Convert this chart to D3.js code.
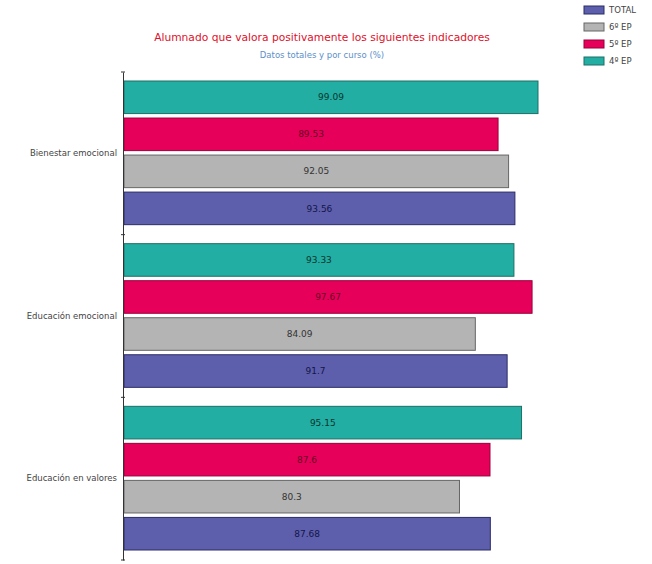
<!DOCTYPE html>
<html>
<head>
<meta charset="utf-8">
<script src="https://cdn.jsdelivr.net/npm/d3@7"></script>
<style>
  body { margin: 0; background: #fff; }
</style>
</head>
<body>
<svg></svg>
<script>
let categories = ['Bienestar emocional', 'Educación emocional', 'Educación en valores'];
let series = ['4º EP', '5º EP', '6º EP', 'TOTAL'];
let cuarto = [99.09, 93.33, 95.15];
let quinto = [89.53, 97.67, 87.6];
let sexto = [92.05, 84.09, 80.3];
let total = [93.56, 91.7, 87.68];
let legendOrder = ['TOTAL', '6º EP', '5º EP', '4º EP'];

let values = { '4º EP': cuarto, '5º EP': quinto, '6º EP': sexto, 'TOTAL': total };
let fills = { '4º EP': '#22aea2', '5º EP': '#e6005a', '6º EP': '#b4b4b4', 'TOTAL': '#5d5fac' };
let strokes = { '4º EP': '#1d6f66', '5º EP': '#9a003c', '6º EP': '#666', 'TOTAL': '#2b2c66' };
let textColors = { '4º EP': '#06352f', '5º EP': '#6a0025', '6º EP': '#333', 'TOTAL': '#14154a' };

let width = 652;
let height = 564;

let svg = d3.select('svg')
    .attr('width', width)
    .attr('height', height)
    .attr('font-family', '"DejaVu Sans", sans-serif');

let x = d3.scaleLinear().domain([0, 100]).range([124, 541.8]);
let y0 = d3.scaleBand().domain(categories).range([72, 560]);
let y1 = d3.scaleBand().domain(series).range([9, y0.bandwidth() - 10]).paddingInner(0.12);

// title
svg.append('text')
    .attr('x', 322).attr('y', 41)
    .attr('text-anchor', 'middle')
    .attr('font-size', 10.7)
    .attr('fill', '#e0102a')
    .text('Alumnado que valora positivamente los siguientes indicadores');

svg.append('text')
    .attr('x', 322).attr('y', 58)
    .attr('text-anchor', 'middle')
    .attr('font-size', 8.5)
    .attr('fill', '#5d8fc9')
    .text('Datos totales y por curso (%)');

// bars
let groups = svg.selectAll('.group')
    .data(categories)
    .enter()
    .append('g')
    .attr('class', 'group')
    .attr('transform', d => `translate(0, ${y0(d)})`);

groups.each(function (cat, ci) {
    let g = d3.select(this);
    series.forEach(s => {
        let v = values[s][ci];
        g.append('rect')
            .attr('x', x(0))
            .attr('y', y1(s))
            .attr('width', x(v) - x(0))
            .attr('height', y1.bandwidth())
            .attr('fill', fills[s])
            .attr('stroke', strokes[s])
            .attr('stroke-width', 1);
        g.append('text')
            .attr('x', (x(0) + x(v)) / 2)
            .attr('y', y1(s) + y1.bandwidth() / 2)
            .attr('dy', '0.35em')
            .attr('text-anchor', 'middle')
            .attr('font-size', 9)
            .attr('fill', textColors[s])
            .text(v);
    });
});

// axis
let yAxis = d3.axisLeft(y0).tickSize(0).tickPadding(6);
let ax = svg.append('g')
    .attr('transform', `translate(${x(0) - 1}, 0)`)
    .call(yAxis);
ax.select('.domain').attr('stroke', '#333');
ax.selectAll('text')
    .attr('font-size', 8.5)
    .attr('fill', '#444')
    .attr('font-family', '"DejaVu Sans", sans-serif');

// small separator ticks between groups
svg.selectAll('.sep')
    .data(categories.concat(['end']))
    .enter()
    .append('line')
    .attr('class', 'sep')
    .attr('x1', x(0) - 3).attr('x2', x(0) + 1)
    .attr('y1', (d, i) => i < categories.length ? y0(d) : y0.range()[1])
    .attr('y2', (d, i) => i < categories.length ? y0(d) : y0.range()[1])
    .attr('stroke', '#333');

// legend
let legend = svg.selectAll('.legend')
    .data(legendOrder)
    .enter()
    .append('g')
    .attr('class', 'legend')
    .attr('transform', (d, i) => `translate(584, ${6 + i * 17})`);

legend.append('rect')
    .attr('width', 20).attr('height', 8)
    .attr('fill', d => fills[d])
    .attr('stroke', d => strokes[d]);

legend.append('text')
    .attr('x', 25).attr('y', 4)
    .attr('dy', '0.35em')
    .attr('font-size', 8.5)
    .attr('fill', '#444')
    .text(d => d);
</script>
</body>
</html>
